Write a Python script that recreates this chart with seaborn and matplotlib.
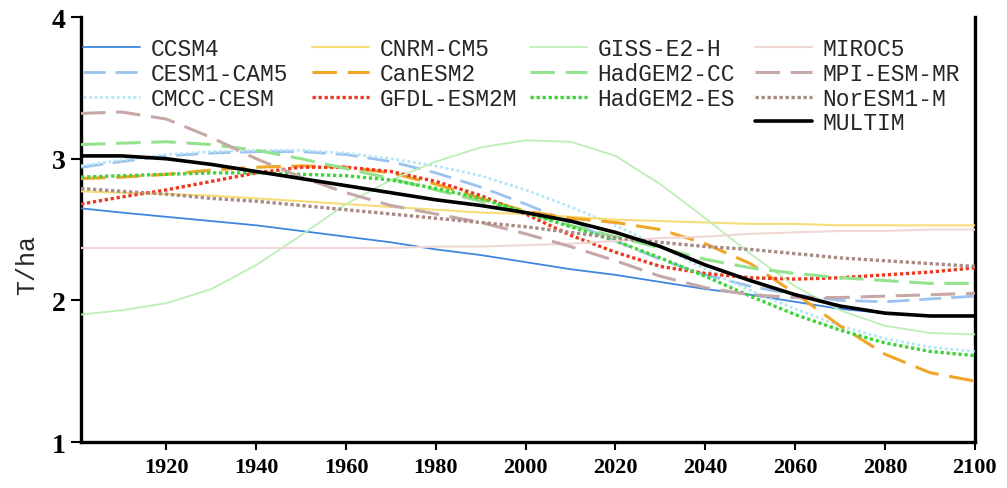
import matplotlib
matplotlib.use("Agg")
import matplotlib.pyplot as plt
from matplotlib.lines import Line2D
import seaborn as sns
import pandas as pd

years = [1901, 1910, 1920, 1930, 1940, 1950, 1960, 1970, 1980, 1990, 2000,
         2010, 2020, 2030, 2040, 2050, 2060, 2070, 2080, 2090, 2100]

ccsm4      = [2.65, 2.62, 2.59, 2.56, 2.53, 2.49, 2.45, 2.41, 2.36, 2.32, 2.27,
              2.22, 2.18, 2.13, 2.08, 2.04, 1.99, 1.94, 1.91, 1.89, 1.89]
cesm1_cam5 = [2.94, 2.98, 3.02, 3.04, 3.05, 3.05, 3.03, 2.98, 2.90, 2.80, 2.68,
              2.55, 2.42, 2.29, 2.18, 2.10, 2.04, 2.00, 1.99, 2.01, 2.03]
cmcc_cesm  = [2.95, 2.99, 3.03, 3.05, 3.06, 3.06, 3.04, 3.00, 2.95, 2.88, 2.78,
              2.66, 2.53, 2.38, 2.22, 2.07, 1.94, 1.82, 1.73, 1.67, 1.64]
cnrm_cm5   = [2.77, 2.76, 2.75, 2.74, 2.72, 2.70, 2.68, 2.66, 2.64, 2.62, 2.61,
              2.59, 2.57, 2.56, 2.55, 2.54, 2.54, 2.53, 2.53, 2.53, 2.53]
canesm2    = [2.86, 2.87, 2.89, 2.92, 2.94, 2.95, 2.94, 2.90, 2.82, 2.72, 2.63,
              2.58, 2.55, 2.50, 2.40, 2.26, 2.05, 1.82, 1.62, 1.49, 1.43]
gfdl_esm2m = [2.68, 2.73, 2.78, 2.84, 2.90, 2.94, 2.94, 2.91, 2.84, 2.74, 2.61,
              2.46, 2.34, 2.24, 2.19, 2.16, 2.15, 2.16, 2.18, 2.20, 2.23]
giss_e2_h  = [1.90, 1.93, 1.98, 2.08, 2.25, 2.46, 2.68, 2.85, 2.98, 3.08, 3.13,
              3.12, 3.02, 2.82, 2.58, 2.33, 2.10, 1.93, 1.82, 1.77, 1.76]
hadgem2_cc = [3.10, 3.11, 3.12, 3.10, 3.06, 3.00, 2.93, 2.86, 2.78, 2.70, 2.62,
              2.53, 2.45, 2.37, 2.29, 2.23, 2.19, 2.16, 2.14, 2.12, 2.12]
hadgem2_es = [2.87, 2.88, 2.89, 2.90, 2.90, 2.89, 2.88, 2.85, 2.79, 2.72, 2.62,
              2.52, 2.42, 2.30, 2.17, 2.03, 1.90, 1.79, 1.70, 1.64, 1.61]
miroc5     = [2.37, 2.37, 2.37, 2.37, 2.37, 2.37, 2.37, 2.37, 2.38, 2.38, 2.39,
              2.40, 2.42, 2.44, 2.45, 2.47, 2.48, 2.49, 2.49, 2.50, 2.50]
mpi_esm_mr = [3.32, 3.33, 3.28, 3.15, 3.00, 2.87, 2.76, 2.67, 2.61, 2.55, 2.47,
              2.38, 2.28, 2.17, 2.09, 2.04, 2.02, 2.02, 2.03, 2.04, 2.05]
noresm1_m  = [2.79, 2.77, 2.75, 2.72, 2.70, 2.67, 2.64, 2.61, 2.58, 2.55, 2.52,
              2.48, 2.44, 2.41, 2.38, 2.36, 2.33, 2.30, 2.28, 2.26, 2.24]
multim     = [3.02, 3.02, 3.00, 2.96, 2.91, 2.86, 2.81, 2.76, 2.71, 2.67, 2.62,
              2.56, 2.48, 2.38, 2.25, 2.14, 2.04, 1.96, 1.91, 1.89, 1.89]

model_names = ["CCSM4", "CESM1-CAM5", "CMCC-CESM", "CNRM-CM5", "CanESM2",
               "GFDL-ESM2M", "GISS-E2-H", "HadGEM2-CC", "HadGEM2-ES",
               "MIROC5", "MPI-ESM-MR", "NorESM1-M", "MULTIM"]
model_values = [ccsm4, cesm1_cam5, cmcc_cesm, cnrm_cm5, canesm2, gfdl_esm2m,
                giss_e2_h, hadgem2_cc, hadgem2_es, miroc5, mpi_esm_mr,
                noresm1_m, multim]

x_ticks = [1920, 1940, 1960, 1980, 2000, 2020, 2040, 2060, 2080, 2100]
y_ticks = [1, 2, 3, 4]

DASH = (0, (8, 3.5))
DOT = (0, (1, 0.8))
styles = {
    "CCSM4":      dict(color="#3f86e0", lw=1.3, ls="-"),
    "CESM1-CAM5": dict(color="#9cc2ee", lw=2.0, ls=DASH),
    "CMCC-CESM":  dict(color="#b4e6f6", lw=2.0, ls=(0, (1, 1))),
    "CNRM-CM5":   dict(color="#f7dc7a", lw=1.5, ls="-"),
    "CanESM2":    dict(color="#f2a628", lw=2.2, ls=DASH),
    "GFDL-ESM2M": dict(color="#ec3a22", lw=2.4, ls=DOT),
    "GISS-E2-H":  dict(color="#bdeeb6", lw=1.3, ls="-"),
    "HadGEM2-CC": dict(color="#93e38e", lw=2.2, ls=DASH),
    "HadGEM2-ES": dict(color="#3ed43a", lw=2.4, ls=DOT),
    "MIROC5":     dict(color="#f0d6d4", lw=1.5, ls="-"),
    "MPI-ESM-MR": dict(color="#c6a8a6", lw=2.2, ls=DASH),
    "NorESM1-M":  dict(color="#a88a86", lw=2.4, ls=DOT),
    "MULTIM":     dict(color="#000000", lw=2.6, ls="-"),
}

sns.set_theme(style="white")
plt.rcParams["font.family"] = ["Liberation Serif", "DejaVu Serif"]

fig = plt.figure(figsize=(10.07, 4.89), dpi=100)
ax = fig.add_axes([0.0805, 0.094, 0.8875, 0.869])

handles = {}
for name, vals in zip(model_names, model_values):
    st = styles[name]
    df = pd.DataFrame({"year": years, "val": vals})
    sns.lineplot(data=df, x="year", y="val", ax=ax, color=st["color"],
                 linewidth=st["lw"], linestyle=st["ls"], legend=False,
                 zorder=5 if name == "MULTIM" else 3)
    handles[name] = Line2D([], [], color=st["color"], lw=st["lw"], ls=st["ls"])

ax.set_xlim(1901, 2100)
ax.set_ylim(1, 4)
ax.set_xticks(x_ticks)
ax.set_yticks(y_ticks)
ax.set_xlabel("")
ax.set_ylabel("T/ha", fontsize=18, family=["Liberation Mono", "DejaVu Sans Mono"])
ax.yaxis.set_label_coords(-0.047, 0.42)

for side in ["left", "bottom", "right"]:
    ax.spines[side].set_color("black")
    ax.spines[side].set_linewidth(2.4)
ax.spines["top"].set_visible(False)
ax.tick_params(axis="x", direction="out", length=6, width=1.5, labelsize=16,
               bottom=True, pad=5, colors="black")
ax.tick_params(axis="y", direction="out", length=7, width=1.5, labelsize=20,
               left=True, pad=4, colors="black")
for lab in ax.get_yticklabels():
    lab.set_fontweight("bold")
for lab in ax.get_xticklabels():
    lab.set_fontweight("bold")

columns = [["CCSM4", "CESM1-CAM5", "CMCC-CESM"],
           ["CNRM-CM5", "CanESM2", "GFDL-ESM2M"],
           ["GISS-E2-H", "HadGEM2-CC", "HadGEM2-ES"],
           ["MIROC5", "MPI-ESM-MR", "NorESM1-M", "MULTIM"]]
col_x = [0.0022, 0.2584, 0.5023, 0.7541]
legs = []
for names, cx in zip(columns, col_x):
    lg = ax.legend([handles[n] for n in names], names, loc="upper left",
                   bbox_to_anchor=(cx, 0.952), frameon=False,
                   prop={"family": ["Liberation Mono", "DejaVu Sans Mono"],
                         "size": 16.5},
                   handlelength=2.5, handletextpad=0.45, labelspacing=0.07,
                   borderaxespad=0.0, borderpad=0.0)
    legs.append(lg)
for lg in legs[:-1]:
    ax.add_artist(lg)

fig.savefig("out.png", dpi=100)
